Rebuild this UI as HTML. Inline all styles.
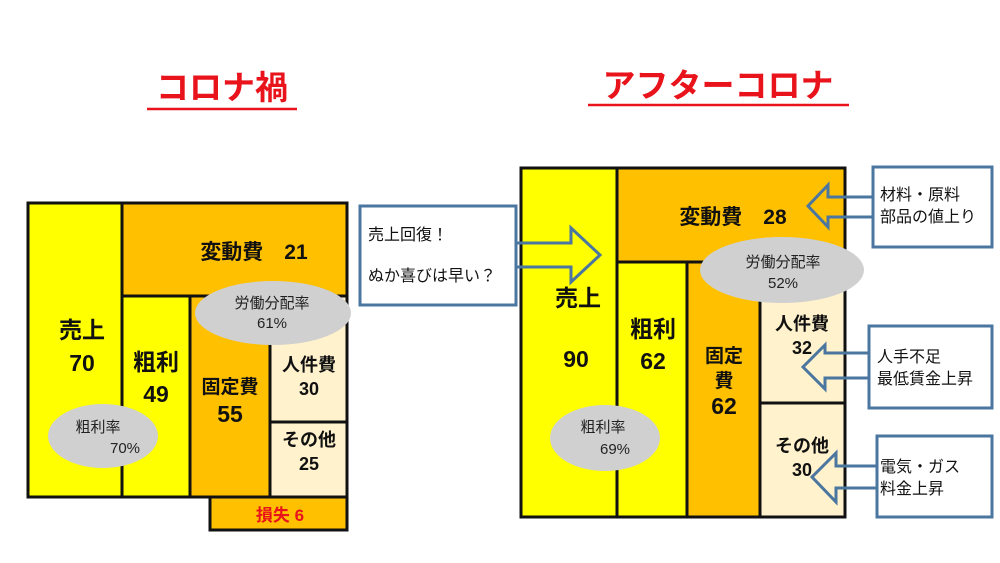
<!DOCTYPE html>
<html><head><meta charset="utf-8"><style>
html,body{margin:0;padding:0;background:#fff;}
svg{display:block;font-family:"Liberation Sans","Noto Sans CJK JP",sans-serif;}
.b{font-weight:bold;fill:#111;}
</style></head><body>
<svg width="1000" height="563" viewBox="0 0 1000 563" xmlns="http://www.w3.org/2000/svg">
<!-- titles -->
<text x="222" y="99" text-anchor="middle" font-size="33" font-weight="bold" fill="#e8131b">コロナ禍</text>
<line x1="147" y1="109" x2="297" y2="109" stroke="#e8131b" stroke-width="2.5"/>
<text x="718" y="97" text-anchor="middle" font-size="33" font-weight="bold" fill="#e8131b">アフターコロナ</text>
<line x1="588" y1="105" x2="849" y2="105" stroke="#e8131b" stroke-width="2.5"/>

<g stroke="#111" stroke-width="3">
<rect x="28" y="203" width="94" height="294" fill="#ffff00"/>
<rect x="122" y="203" width="225" height="93" fill="#ffc000"/>
<rect x="122" y="296" width="68" height="201" fill="#ffff00"/>
<rect x="190" y="296" width="80" height="201" fill="#ffc000"/>
<rect x="270" y="296" width="77" height="126" fill="#fff2cc"/>
<rect x="270" y="422" width="77" height="75" fill="#fff2cc"/>
<rect x="210" y="497" width="137" height="33" fill="#ffc000"/>
<rect x="521" y="168" width="96" height="349" fill="#ffff00"/>
<rect x="617" y="168" width="228" height="94" fill="#ffc000"/>
<rect x="617" y="262" width="70" height="255" fill="#ffff00"/>
<rect x="687" y="262" width="73" height="255" fill="#ffc000"/>
<rect x="760" y="262" width="85" height="141" fill="#fff2cc"/>
<rect x="760" y="403" width="85" height="114" fill="#fff2cc"/>
</g>

<ellipse cx="273" cy="313" rx="78" ry="32" fill="#d0d0d0"/>
<ellipse cx="103" cy="436" rx="55" ry="32" fill="#d0d0d0"/>
<ellipse cx="782" cy="270" rx="82" ry="33" fill="#d0d0d0"/>
<ellipse cx="605" cy="438" rx="55" ry="33" fill="#d0d0d0"/>

<text x="254" y="259" text-anchor="middle" font-size="21" class="b">変動費　21</text>
<text x="82" y="338" text-anchor="middle" font-size="23" class="b">売上</text>
<text x="82" y="371" text-anchor="middle" font-size="23" class="b">70</text>
<text x="156" y="370" text-anchor="middle" font-size="23" class="b">粗利</text>
<text x="156" y="402" text-anchor="middle" font-size="23" class="b">49</text>
<text x="230" y="393" text-anchor="middle" font-size="19" class="b">固定費</text>
<text x="230" y="422" text-anchor="middle" font-size="23" class="b">55</text>
<text x="309" y="371" text-anchor="middle" font-size="18" class="b">人件費</text>
<text x="309" y="395" text-anchor="middle" font-size="18" class="b">30</text>
<text x="309" y="446" text-anchor="middle" font-size="18" class="b">その他</text>
<text x="309" y="470" text-anchor="middle" font-size="18" class="b">25</text>
<text x="280" y="521" text-anchor="middle" font-size="17" font-weight="bold" fill="#e8131b">損失 6</text>
<text x="272" y="308" text-anchor="middle" font-size="15" fill="#222">労働分配率</text>
<text x="272" y="328" text-anchor="middle" font-size="15" fill="#222">61%</text>
<text x="98" y="432" text-anchor="middle" font-size="15" fill="#222">粗利率</text>
<text x="125" y="453" text-anchor="middle" font-size="15" fill="#222">70%</text>

<text x="733" y="224" text-anchor="middle" font-size="21" class="b">変動費　28</text>
<text x="578" y="306" text-anchor="middle" font-size="23" class="b">売上</text>
<text x="576" y="367" text-anchor="middle" font-size="23" class="b">90</text>
<text x="653" y="337" text-anchor="middle" font-size="23" class="b">粗利</text>
<text x="653" y="369" text-anchor="middle" font-size="23" class="b">62</text>
<text x="724" y="362" text-anchor="middle" font-size="19" class="b">固定</text>
<text x="724" y="387" text-anchor="middle" font-size="19" class="b">費</text>
<text x="724" y="414" text-anchor="middle" font-size="23" class="b">62</text>
<text x="802" y="330" text-anchor="middle" font-size="18" class="b">人件費</text>
<text x="802" y="354" text-anchor="middle" font-size="18" class="b">32</text>
<text x="802" y="452" text-anchor="middle" font-size="18" class="b">その他</text>
<text x="802" y="476" text-anchor="middle" font-size="18" class="b">30</text>
<text x="783" y="267" text-anchor="middle" font-size="15" fill="#222">労働分配率</text>
<text x="783" y="288" text-anchor="middle" font-size="15" fill="#222">52%</text>
<text x="603" y="432" text-anchor="middle" font-size="15" fill="#222">粗利率</text>
<text x="615" y="454" text-anchor="middle" font-size="15" fill="#222">69%</text>

<g stroke="#4a76a0" stroke-width="3" stroke-linejoin="miter">
<rect x="360" y="206" width="156" height="99" fill="#fff"/>
<polyline points="516,243 571,243 571,228 600,255 571,282 571,267 516,267" fill="none"/>
<rect x="873" y="167" width="119" height="80" fill="#fff"/>
<polyline points="873,197 828,197 828,185 808,206 828,227 828,217 873,217" fill="none"/>
<rect x="869" y="326" width="123" height="82" fill="#fff"/>
<polyline points="869,353 825,353 825,345 803,367 825,389 825,378 869,378" fill="none"/>
<rect x="877" y="436" width="115" height="81" fill="#fff"/>
<polyline points="877,466 836,466 836,453 812,477 836,502 836,488 877,488" fill="none"/>
</g>
<text x="368" y="240" font-size="16" fill="#111">売上回復！</text>
<text x="368" y="281" font-size="16" fill="#111">ぬか喜びは早い？</text>
<text x="880" y="200" font-size="16" fill="#111">材料・原料</text>
<text x="880" y="222" font-size="16" fill="#111">部品の値上り</text>
<text x="877" y="362" font-size="16" fill="#111">人手不足</text>
<text x="877" y="384" font-size="16" fill="#111">最低賃金上昇</text>
<text x="880" y="472" font-size="16" fill="#111">電気・ガス</text>
<text x="880" y="494" font-size="16" fill="#111">料金上昇</text>
</svg>
</body></html>
